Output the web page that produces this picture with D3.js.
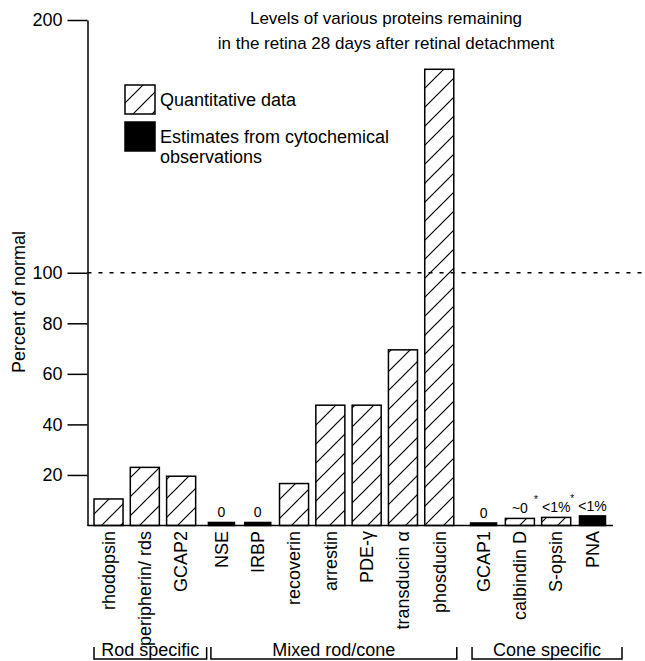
<!DOCTYPE html>
<html>
<head>
<meta charset="utf-8">
<script src="https://cdn.jsdelivr.net/npm/d3@7/dist/d3.min.js"></script>
<style>
  html, body { margin: 0; padding: 0; background: #fff; }
  svg { display: block; }
  text { font-family: "Liberation Sans", Arial, Helvetica, sans-serif; fill: #000; }
</style>
</head>
<body>
<div id="chart"></div>
<script>
// ---- data ----
const categories = ["rhodopsin", "peripherin/ rds", "GCAP2", "NSE", "IRBP", "recoverin", "arrestin",
  "PDE-\u03b3", "transducin \u03b1", "phosducin", "GCAP1", "calbindin D", "S-opsin", "PNA"];
const values = [10.5, 23, 19.5, 1.2, 1.2, 16.6, 47.6, 47.6, 69.5, 180.5, 1.0, 2.8, 3.2, 3.8];
const dataKind = ["quant", "quant", "quant", "est", "est", "quant", "quant", "quant", "quant", "quant",
  "est", "quant", "quant", "est"];
const groupOf = ["Rod specific", "Rod specific", "Rod specific",
  "Mixed rod/cone", "Mixed rod/cone", "Mixed rod/cone", "Mixed rod/cone", "Mixed rod/cone", "Mixed rod/cone", "Mixed rod/cone",
  "Cone specific", "Cone specific", "Cone specific", "Cone specific"];
const groups = ["Rod specific", "Mixed rod/cone", "Cone specific"];
const valueLabels = ["", "", "", "0", "0", "", "", "", "", "", "0", "~0", "<1%", "<1%"];
const valueStars = [false, false, false, false, false, false, false, false, false, false, false, true, true, false];
const yTickValues = [20, 40, 60, 80, 100, 200];
const referenceLevel = 100;
const titleLines = ["Levels of various proteins remaining", "in the retina 28 days after retinal detachment"];
const legendItems = [
  { kind: "quant", lines: ["Quantitative data"] },
  { kind: "est", lines: ["Estimates from cytochemical", "observations"] }
];
const yTitle = "Percent of normal";

// ---- layout ----
const W = 645, H = 661;
const svg = d3.select("#chart").append("svg").attr("width", W).attr("height", H);

const defs = svg.append("defs");
const pat = defs.append("pattern").attr("id", "hatch")
  .attr("patternUnits", "userSpaceOnUse").attr("width", 19).attr("height", 19);
pat.append("path")
  .attr("d", "M0,19 L19,0 M-5,5 L5,-5 M14,24 L24,14")
  .attr("stroke", "#000").attr("stroke-width", 1.2).attr("fill", "none");

const y = d3.scaleLinear().domain([0, 200]).range([525.5, 20]);
const x = d3.scaleBand().domain(categories).range([94, 595]).paddingInner(0.2).paddingOuter(0);
const gOffset = d3.scaleOrdinal().domain(groups).range([0, 4, 12]);
const axisX = 87.5;

const bw = x.bandwidth();
const barLeft = (d, i) => x(d) + gOffset(groupOf[i]);
const barCenter = (d, i) => barLeft(d, i) + bw / 2;

// title
svg.append("g").selectAll("text").data(titleLines).join("text")
  .attr("x", 386).attr("y", (d, i) => 24 + i * 25)
  .attr("text-anchor", "middle").attr("font-size", 17).text(d => d);

// y axis
const yAxis = d3.axisLeft(y).tickValues(yTickValues).tickSize(20).tickSizeOuter(0).tickPadding(5)
  .tickFormat(d3.format("d"));
const ga = svg.append("g").attr("transform", `translate(${axisX},0)`).call(yAxis);
ga.selectAll("text").attr("font-size", 18).attr("font-family", "Liberation Sans, Arial, sans-serif").attr("fill", "#000");
ga.selectAll("line").attr("stroke", "#000").attr("stroke-width", 1.5);
ga.select(".domain").attr("stroke", "#000").attr("stroke-width", 1.5);

// y title
svg.append("text").attr("transform", `translate(25,302) rotate(-90)`)
  .attr("text-anchor", "middle").attr("font-size", 18).text(yTitle);

// reference dashed line
svg.append("line").attr("x1", axisX).attr("x2", W).attr("y1", y(referenceLevel)).attr("y2", y(referenceLevel))
  .attr("stroke", "#000").attr("stroke-width", 1.4).attr("stroke-dasharray", "4,7");

// bars
const bars = svg.append("g");
categories.forEach((c, i) => {
  const est = dataKind[i] === "est";
  const w = est ? bw - 3 : bw;
  const left = barLeft(c, i) + (bw - w) / 2;
  const top = y(values[i]);
  bars.append("rect")
    .attr("x", left).attr("y", top).attr("width", w).attr("height", y(0) - top)
    .attr("fill", est ? "#000" : "url(#hatch)")
    .attr("stroke", "#000").attr("stroke-width", 1.5);
});

// baseline
svg.append("line").attr("x1", axisX).attr("x2", 613).attr("y1", y(0)).attr("y2", y(0))
  .attr("stroke", "#000").attr("stroke-width", 1.5);

// value labels
categories.forEach((c, i) => {
  if (!valueLabels[i]) return;
  const cx = barCenter(c, i);
  const ty = y(values[i]) - 5;
  svg.append("text").attr("x", cx).attr("y", ty).attr("text-anchor", "middle")
    .attr("font-size", 14).text(valueLabels[i]);
  if (valueStars[i]) {
    svg.append("text").attr("x", cx + 16).attr("y", ty - 10).attr("text-anchor", "middle")
      .attr("font-size", 10).text("*");
  }
});

// category labels
svg.append("g").selectAll("text").data(categories).join("text")
  .attr("transform", (d, i) => `translate(${barCenter(d, i)},531) rotate(-90)`)
  .attr("dy", "0.35em").attr("text-anchor", "end").attr("font-size", 18).text(d => d);

// group brackets
const bracketPad = { "Rod specific": [0, 11], "Mixed rod/cone": [4, 3], "Cone specific": [3, 15] };
groups.forEach(g => {
  const idx = categories.map((c, i) => i).filter(i => groupOf[i] === g);
  const first = idx[0], last = idx[idx.length - 1];
  const l = barLeft(categories[first], first) + bracketPad[g][0];
  const r = barLeft(categories[last], last) + bw + bracketPad[g][1];
  const bg = svg.append("g");
  bg.append("path").attr("d", `M${l},647 L${l},659 L${r},659 L${r},647`)
    .attr("fill", "none").attr("stroke", "#000").attr("stroke-width", 1.5);
  bg.append("text").attr("x", (l + r) / 2).attr("y", 656).attr("text-anchor", "middle")
    .attr("font-size", 18).text(g);
});

// legend
const lg = svg.append("g");
legendItems.forEach((it, k) => {
  const by = k === 0 ? 85 : 122;
  lg.append("rect").attr("x", 125).attr("y", by).attr("width", 30).attr("height", 29)
    .attr("fill", it.kind === "est" ? "#000" : "url(#hatch)").attr("stroke", "#000").attr("stroke-width", 1.5);
  it.lines.forEach((t, j) => {
    lg.append("text").attr("x", 160).attr("y", (k === 0 ? 106 : 143) + j * 20)
      .attr("font-size", 18).text(t);
  });
});
</script>
</body>
</html>
